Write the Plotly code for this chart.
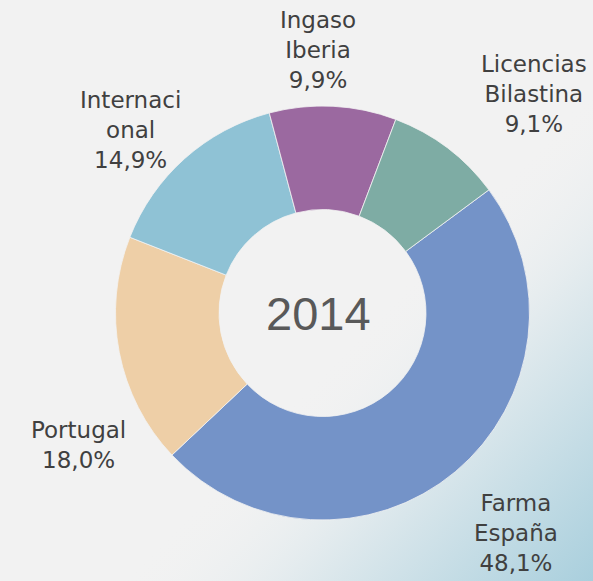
import base64
import math
import plotly.graph_objects as go

# ---- data ----
categories = ["Farma España", "Portugal", "Internacional", "Ingaso Iberia", "Licencias Bilastina"]
shares = [48.1, 18.0, 14.9, 9.9, 9.1]
label_text = ["Farma<br>España", "Portugal", "Internaci<br>onal", "Ingaso<br>Iberia", "Licencias<br>Bilastina"]
center_label = "2014"

# ---- style ----
colors = ["#7493C8", "#EECFA7", "#8FC2D5", "#9B69A0", "#7EACA4"]
W, H = 593, 581
CX, CY, R = 322.5, 313.0, 207.0
ROTATION = 53.5
label_dist = [293, 278, 265, 263, 304]      # px from centre
label_shift = [-1.4, -17.5, -4.7, -4.0, 6.9]  # deg nudge from slice mid-angle

fig = go.Figure()
fig.add_trace(go.Pie(
    labels=categories,
    values=shares,
    sort=False,
    direction="clockwise",
    rotation=ROTATION,
    hole=0.5,
    marker=dict(colors=colors, line=dict(color="#F2F2F2", width=0.8)),
    textinfo="none",
    hoverinfo="label+percent",
    showlegend=False,
    domain=dict(x=[(CX - R) / W, (CX + R) / W],
                y=[(H - CY - R) / H, (H - CY + R) / H]),
))

# labels placed at each slice's mid angle (computed from the data)
total = sum(shares)
acc = 0.0
annotations = []
for i, (v, txt) in enumerate(zip(shares, label_text)):
    mid = ROTATION + (acc + v / 2) / total * 360.0 + label_shift[i]
    acc += v
    th = math.radians(mid)
    px = CX + label_dist[i] * math.sin(th)
    py = CY - label_dist[i] * math.cos(th)
    pct = f"{v:.1f}".replace(".", ",") + "%"
    annotations.append(dict(
        x=px / W, y=1 - py / H, xref="paper", yref="paper",
        text=f"{txt}<br>{pct}", showarrow=False,
        xanchor="center", yanchor="middle", align="center",
        font=dict(family="DejaVu Sans", size=23, color="#404040"),
    ))

annotations.append(dict(
    x=CX / W, y=1 - CY / H, xref="paper", yref="paper", xshift=-4,
    text=center_label, showarrow=False, xanchor="center", yanchor="middle",
    font=dict(family="Liberation Sans, Arial", size=47, color="#595959"),
))

svg = f"""<svg xmlns='http://www.w3.org/2000/svg' width='{W}' height='{H}' viewBox='0 0 {W} {H}' preserveAspectRatio='none'>
<defs><linearGradient id='g' gradientUnits='userSpaceOnUse' x1='345' y1='345' x2='{W}' y2='{H}'>
<stop offset='0' stop-color='#F2F2F2' stop-opacity='0'/>
<stop offset='0.35' stop-color='#E3EBEE' stop-opacity='1'/>
<stop offset='1' stop-color='#A9CFDD' stop-opacity='1'/>
</linearGradient></defs>
<rect x='0' y='0' width='{W}' height='{H}' fill='url(#g)'/></svg>"""
src = "data:image/svg+xml;base64," + base64.b64encode(svg.encode()).decode()

fig.update_layout(
    width=W, height=H,
    margin=dict(l=0, r=0, t=0, b=0),
    paper_bgcolor="#F2F2F2",
    plot_bgcolor="rgba(0,0,0,0)",
    annotations=annotations,
    images=[dict(source=src, xref="paper", yref="paper", x=0, y=1, sizex=1, sizey=1,
                 xanchor="left", yanchor="top", sizing="stretch", layer="below")],
)

fig.write_html("out.html",
               config={"displayModeBar": False},
               post_script="document.body.style.margin='0px';document.body.style.padding='0px';")
